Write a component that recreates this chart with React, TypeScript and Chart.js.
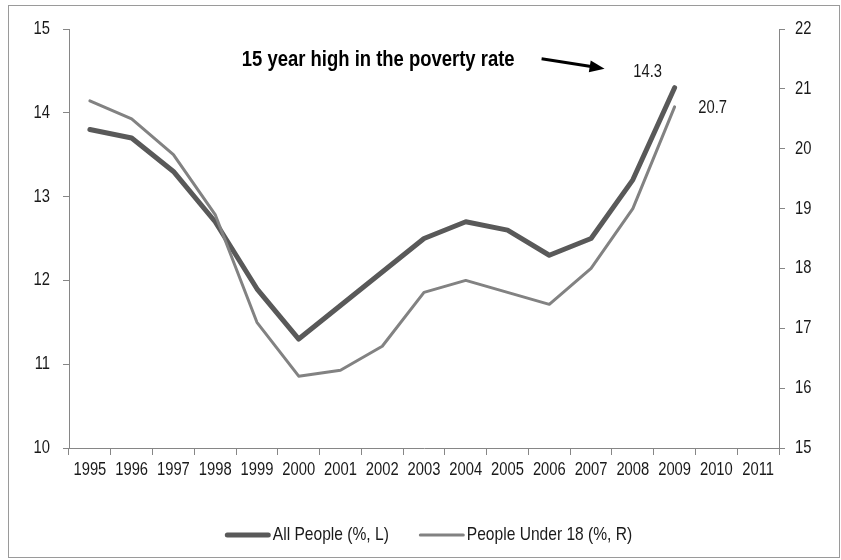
import { useEffect, useRef } from "react";
import { Chart, registerables } from "chart.js";

Chart.register(...registerables);

// ---- data ----
const years = ["1995", "1996", "1997", "1998", "1999", "2000", "2001", "2002", "2003", "2004", "2005", "2006", "2007", "2008", "2009", "2010", "2011"];
const allPeople: (number | null)[] = [13.8, 13.7, 13.3, 12.7, 11.9, 11.3, 11.7, 12.1, 12.5, 12.7, 12.6, 12.3, 12.5, 13.2, 14.3, null, null];
const under18: (number | null)[] = [20.8, 20.5, 19.9, 18.9, 17.1, 16.2, 16.3, 16.7, 17.6, 17.8, 17.6, 17.4, 18.0, 19.0, 20.7, null, null];
const seriesLabels = ["All People (%, L)", "People Under 18 (%, R)"];
const leftRange = [10, 15];
const rightRange = [15, 22];
const annotationText = "15 year high in the poverty rate";
const labelledIndex = 14; // 2009

const FONT = '"Liberation Sans", Arial, sans-serif';
const AXIS_COLOR = "#868686";
const TEXT_COLOR = "#1a1a1a";
const FS = 18;
const NARROW = 0.82; // horizontal squeeze to imitate a narrow face

const narrowTextPlugin = {
  id: "narrowText",
  beforeDraw(chart: any) {
    const ctx = chart.ctx as any;
    if (ctx.__origFillText) return;
    const orig = ctx.fillText;
    ctx.__origFillText = orig;
    ctx.fillText = function (text: string, x: number, y: number, maxWidth?: number) {
      this.save();
      this.translate(x, y);
      this.scale(NARROW, 1);
      if (maxWidth !== undefined && maxWidth !== null) orig.call(this, text, 0, 0, maxWidth / NARROW);
      else orig.call(this, text, 0, 0);
      this.restore();
    };
  },
  afterDraw(chart: any) {
    const ctx = chart.ctx as any;
    if (ctx.__origFillText) {
      ctx.fillText = ctx.__origFillText;
      delete ctx.__origFillText;
    }
  },
};

const overlayPlugin = {
  id: "overlay",
  afterDraw(chart: any) {
    const ctx = chart.ctx as CanvasRenderingContext2D;
    ctx.save();
    const m0 = chart.getDatasetMeta(0);
    const m1 = chart.getDatasetMeta(1);
    const p0 = m0.data[labelledIndex];
    const p1 = m1.data[labelledIndex];
    ctx.fillStyle = TEXT_COLOR;
    ctx.font = `${FS}px ${FONT}`;
    ctx.textAlign = "center";
    ctx.textBaseline = "middle";
    if (p0) ctx.fillText(String(allPeople[labelledIndex]), p0.x - 27, p0.y - 16);
    if (p1) ctx.fillText(String(under18[labelledIndex]), p1.x + 38, p1.y + 1);

    // annotation text + arrow, anchored on the 2009 point
    if (p0) {
      ctx.font = `bold 22.5px ${FONT}`;
      ctx.textAlign = "right";
      ctx.fillStyle = "#000";
      ctx.fillText(annotationText, p0.x - 160, p0.y - 28);
      const tx = p0.x - 133, ty = p0.y - 29;
      const hx = p0.x - 70, hy = p0.y - 19;
      const ang = Math.atan2(hy - ty, hx - tx);
      ctx.strokeStyle = "#000";
      ctx.lineWidth = 3;
      ctx.beginPath();
      ctx.moveTo(tx, ty);
      ctx.lineTo(hx - 12 * Math.cos(ang), hy - 12 * Math.sin(ang));
      ctx.stroke();
      ctx.beginPath();
      ctx.moveTo(hx, hy);
      ctx.lineTo(hx - 15 * Math.cos(ang) + 6 * Math.sin(ang), hy - 15 * Math.sin(ang) - 6 * Math.cos(ang));
      ctx.lineTo(hx - 15 * Math.cos(ang) - 6 * Math.sin(ang), hy - 15 * Math.sin(ang) + 6 * Math.cos(ang));
      ctx.closePath();
      ctx.fillStyle = "#000";
      ctx.fill();
    }

    // legend
    ctx.font = `19px ${FONT}`;
    ctx.textAlign = "left";
    ctx.textBaseline = "middle";
    const sample = 46;
    const gapText = 2;
    const gapItem = 30;
    const ds = chart.data.datasets;
    const widths = ds.map((d: any) => ctx.measureText(d.label).width * NARROW);
    const total = widths.reduce((a: number, w: number) => a + sample + gapText + w, 0) + gapItem * (ds.length - 1);
    let x = 428.5 - total / 2;
    const y = chart.height - 25;
    ds.forEach((d: any, i: number) => {
      ctx.strokeStyle = d.borderColor;
      ctx.lineWidth = d.borderWidth;
      ctx.lineCap = "round";
      ctx.beginPath();
      ctx.moveTo(x + d.borderWidth / 2, y);
      ctx.lineTo(x + sample - d.borderWidth / 2, y);
      ctx.stroke();
      ctx.fillStyle = TEXT_COLOR;
      ctx.fillText(d.label, x + sample + gapText, y);
      x += sample + gapText + widths[i] + gapItem;
    });
    ctx.restore();
  },
};

export default function App() {
  const ref = useRef<HTMLCanvasElement>(null);
  useEffect(() => {
    if (!ref.current) return;
    Chart.defaults.font.family = FONT;
    const chart = new Chart(ref.current, {
      type: "line",
      data: {
        labels: years,
        datasets: [
          {
            label: seriesLabels[0],
            data: allPeople,
            borderColor: "#595959",
            backgroundColor: "#595959",
            borderWidth: 5,
            pointRadius: 0,
            tension: 0,
            borderJoinStyle: "round",
            borderCapStyle: "round",
            yAxisID: "y",
            order: 2,
          },
          {
            label: seriesLabels[1],
            data: under18,
            borderColor: "#828282",
            backgroundColor: "#828282",
            borderWidth: 3,
            pointRadius: 0,
            tension: 0,
            borderJoinStyle: "round",
            borderCapStyle: "round",
            yAxisID: "y1",
            order: 1,
          },
        ],
      },
      options: {
        responsive: false,
        animation: false,
        devicePixelRatio: window.devicePixelRatio || 1,
        layout: { padding: { top: 29, left: 0, right: 0, bottom: 72 } },
        plugins: {
          legend: { display: false },
          tooltip: { enabled: false },
        },
        scales: {
          x: {
            type: "category",
            offset: true,
            grid: { display: true, drawOnChartArea: false, offset: true, tickLength: 7, color: AXIS_COLOR },
            border: { display: true, color: AXIS_COLOR, width: 1 },
            ticks: { color: TEXT_COLOR, font: { size: FS }, padding: 4, maxRotation: 0, minRotation: 0, autoSkip: false },
            afterFit: (s: any) => { s.height = 40; },
          },
          y: {
            position: "left",
            min: leftRange[0],
            max: leftRange[1],
            grid: { display: true, drawOnChartArea: false, tickLength: 6, color: AXIS_COLOR },
            border: { display: true, color: AXIS_COLOR, width: 1 },
            ticks: { stepSize: 1, color: TEXT_COLOR, font: { size: FS }, padding: 13 },
            afterFit: (s: any) => { s.width = 69; },
          },
          y1: {
            position: "right",
            min: rightRange[0],
            max: rightRange[1],
            grid: { display: true, drawOnChartArea: false, tickLength: 6, color: AXIS_COLOR },
            border: { display: true, color: AXIS_COLOR, width: 1 },
            ticks: { stepSize: 1, color: TEXT_COLOR, font: { size: FS }, padding: 10 },
            afterFit: (s: any) => { s.width = 62; },
          },
        },
      } as any,
      plugins: [overlayPlugin, narrowTextPlugin],
    });
    return () => chart.destroy();
  }, []);

  return (
    <div style={{ position: "absolute", left: 0, top: 0, width: 841, height: 560, background: "#fff" }}>
      <div style={{ position: "absolute", left: 8, top: 5, width: 832, height: 553, boxSizing: "border-box", border: "1px solid #9a9a9a" }} />
      <canvas ref={ref} width={841} height={560} style={{ position: "absolute", left: 0, top: 0, width: 841, height: 560 }} />
    </div>
  );
}
